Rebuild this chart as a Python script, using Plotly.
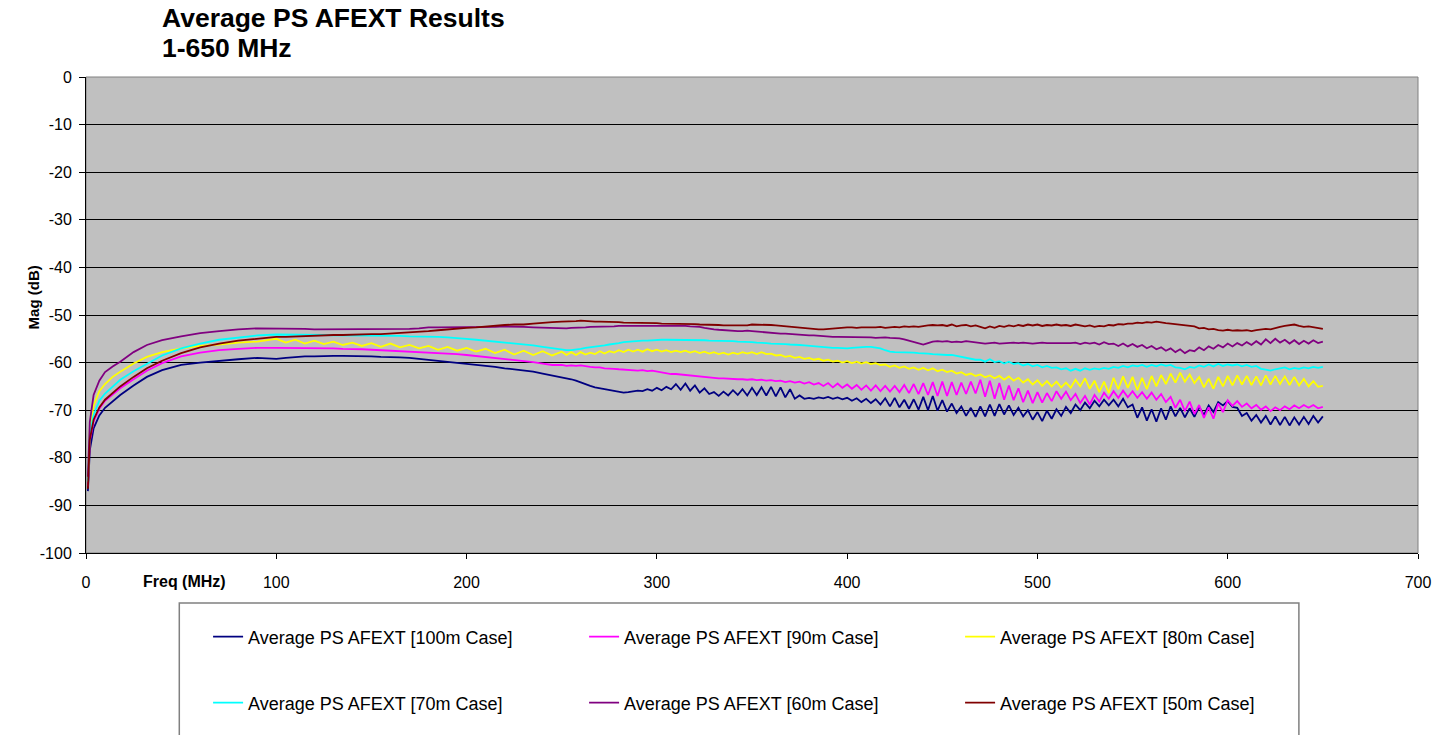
import numpy as np
import plotly.graph_objects as go

# Frequency sweep (MHz): coarse on the rising edge, then 5 MHz, then 2.5 MHz steps
freq = ([1, 2, 4, 7, 10, 14, 18, 25, 32, 40, 50, 60, 70, 80, 90]
        + list(range(100, 250, 5))
        + list(np.arange(250, 650.01, 2.5)))

series_names = [
    "Average PS AFEXT [100m Case]",
    "Average PS AFEXT [90m Case]",
    "Average PS AFEXT [80m Case]",
    "Average PS AFEXT [70m Case]",
    "Average PS AFEXT [60m Case]",
    "Average PS AFEXT [50m Case]",
]
series_colors = ["#000080", "#FF00FF", "#FFFF00", "#00FFFF", "#800080", "#800000"]

# Magnitude (dB) for each cable length
avg_100m = [
    -87.0, -78.4, -73.8, -71.1, -69.5, -68.1, -66.8, -64.8, -63.0, -61.6, -60.5, -60.0, -59.6, -59.3, -59.0,
    -59.2, -59.0, -58.8, -58.7, -58.7, -58.6, -58.6, -58.6, -58.6, -58.7, -58.7, -58.8, -58.8, -58.9, -59.0,
    -59.2, -59.4, -59.6, -59.8, -60.0, -60.2, -60.4, -60.6, -60.9, -61.2, -61.4, -61.6, -61.9, -62.3, -62.7,
    -63.0, -63.2, -63.5, -63.8, -64.2, -64.6, -64.9, -65.2,
    -65.4, -65.6, -65.8, -66.0, -66.2, -66.3, -66.2, -66.1,
    -65.9, -66.0, -65.6, -65.9, -65.3, -65.8, -65.1, -65.6,
    -64.5, -65.7, -64.4, -65.9, -64.8, -66.3, -65.4, -66.6,
    -66.2, -67.0, -66.1, -66.9, -65.8, -66.8, -65.6, -66.9,
    -65.3, -66.8, -65.2, -66.9, -65.1, -67.1, -65.2, -67.3,
    -65.6, -67.6, -66.9, -67.6, -67.4, -67.6, -67.3, -67.5,
    -67.2, -67.6, -67.3, -67.7, -67.4, -68.0, -67.5, -68.3,
    -67.6, -68.5, -67.7, -68.8, -67.5, -69.2, -67.4, -69.4,
    -67.8, -69.7, -67.7, -69.9, -67.2, -70.0, -67.0, -70.1,
    -67.9, -70.3, -68.6, -70.6, -69.2, -71.2, -69.5, -71.4,
    -69.2, -71.3, -68.8, -71.2, -68.7, -70.9, -69.0, -71.0,
    -69.5, -71.3, -70.0, -72.0, -70.4, -72.3, -70.1, -71.8,
    -69.8, -71.2, -69.3, -70.6, -68.8, -70.0, -68.4, -69.6,
    -68.0, -69.2, -67.8, -69.0, -67.8, -69.2, -67.6, -69.4,
    -68.8, -71.6, -69.4, -72.2, -69.8, -72.4, -69.6, -72.0,
    -69.2, -71.3, -69.5, -71.5, -69.6, -71.4, -69.3, -71.0,
    -69.0, -70.4, -68.3, -69.0, -68.1, -69.3, -69.5, -71.2,
    -70.6, -72.2, -71.0, -72.6, -71.2, -73.0, -71.3, -73.1,
    -71.4, -73.2, -71.5, -73.0, -71.4, -72.9, -71.2, -72.6,
    -71.3,
]

avg_90m = [
    -86.0, -76.5, -72.4, -69.7, -68.0, -66.6, -65.4, -63.5, -61.7, -60.1, -58.7, -57.9, -57.4, -57.1, -56.9,
    -56.9, -56.9, -56.9, -57.0, -57.0, -57.0, -57.0, -57.1, -57.1, -57.2, -57.3, -57.4, -57.4, -57.5, -57.6,
    -57.7, -57.8, -57.9, -58.0, -58.2, -58.4, -58.6, -58.8, -59.1, -59.3, -59.5, -59.6, -59.9, -60.2, -60.5,
    -60.5, -60.7, -60.6, -60.7, -60.6, -60.8, -60.9, -61.0,
    -61.0, -61.2, -61.2, -61.3, -61.4, -61.5, -61.6, -61.7,
    -61.7, -61.6, -61.8, -61.7, -61.9, -62.1, -62.2, -62.4,
    -62.4, -62.5, -62.7, -62.8, -62.9, -63.0, -63.1, -63.2,
    -63.2, -63.3, -63.3, -63.4, -63.4, -63.5, -63.5, -63.6,
    -63.5, -63.7, -63.6, -63.8, -63.7, -63.9, -63.8, -64.1,
    -63.9, -64.2, -64.0, -64.4, -64.1, -64.6, -64.3, -64.9,
    -64.3, -65.2, -64.4, -65.3, -64.6, -65.5, -64.7, -65.7,
    -64.8, -65.9, -64.8, -66.0, -64.9, -66.1, -64.9, -66.2,
    -64.7, -66.4, -64.5, -66.6, -64.3, -66.8, -64.1, -67.0,
    -64.0, -67.0, -64.1, -66.8, -64.2, -66.6, -64.0, -66.5,
    -63.6, -67.2, -63.8, -67.6, -64.3, -67.8, -64.8, -67.9,
    -65.4, -68.3, -65.9, -68.5, -66.2, -68.4, -66.4, -68.1,
    -66.0, -67.6, -66.1, -67.9, -66.6, -68.5, -67.0, -68.8,
    -66.8, -68.2, -66.3, -67.6, -66.0, -67.4, -65.9, -67.3,
    -66.0, -67.4, -66.2, -67.6, -66.3, -67.8, -66.6, -68.3,
    -67.2, -69.5, -67.8, -70.2, -68.2, -70.8, -68.9, -71.6,
    -69.4, -71.8, -68.6, -70.4, -67.9, -69.1, -68.1, -69.3,
    -68.6, -69.6, -68.9, -69.9, -69.2, -70.2, -69.4, -70.0,
    -69.2, -69.8, -69.0, -69.6, -68.9, -69.5, -68.9, -69.6,
    -69.3,
]

avg_80m = [
    -85.0, -74.0, -69.0, -66.0, -64.5, -63.0, -61.9, -60.2, -58.8, -57.8, -57.0, -56.5, -56.2, -55.8, -55.6,
    -55.0, -55.8, -55.2, -56.0, -55.4, -56.1, -55.6, -56.3, -55.8, -56.5, -55.9, -56.7, -56.0, -56.8, -56.3,
    -57.0, -56.5, -57.3, -56.7, -57.5, -56.9, -57.7, -57.1, -58.0, -57.3, -58.3, -57.5, -58.4, -57.6, -58.5,
    -57.7, -58.4, -57.8, -58.4, -57.8, -58.3, -57.9, -58.2,
    -57.6, -58.1, -57.6, -57.9, -57.4, -57.8, -57.3, -57.7,
    -57.3, -57.7, -57.2, -57.6, -57.3, -57.7, -57.4, -57.8,
    -57.5, -57.8, -57.5, -57.9, -57.6, -58.0, -57.7, -58.1,
    -57.8, -58.2, -57.9, -58.3, -57.9, -58.2, -57.8, -58.1,
    -57.8, -58.2, -57.8, -58.2, -58.1, -58.5, -58.4, -58.8,
    -58.6, -59.0, -58.8, -59.2, -59.0, -59.4, -59.2, -59.6,
    -59.4, -59.8, -59.6, -60.0, -59.7, -60.1, -59.8, -60.2,
    -59.9, -60.3, -60.1, -60.5, -60.4, -60.9, -60.6, -61.1,
    -60.8, -61.3, -61.0, -61.5, -61.1, -61.6, -61.2, -61.8,
    -61.5, -62.0, -61.7, -62.3, -62.0, -62.6, -62.3, -62.8,
    -62.5, -63.1, -62.7, -63.3, -62.8, -63.6, -62.9, -63.8,
    -63.2, -64.2, -63.5, -64.6, -63.7, -64.9, -63.9, -65.0,
    -64.0, -65.2, -64.2, -65.3, -63.6, -65.0, -63.3, -65.5,
    -63.8, -66.2, -64.0, -66.4, -63.2, -65.6, -62.9, -65.3,
    -63.0, -65.8, -63.2, -65.6, -62.8, -65.0, -62.6, -64.5,
    -62.3, -64.2, -62.1, -64.0, -62.5, -64.3, -63.0, -65.2,
    -63.4, -65.5, -63.0, -65.0, -62.8, -64.8, -62.7, -64.6,
    -62.8, -64.7, -62.9, -64.8, -62.7, -64.6, -62.8, -64.5,
    -62.9, -64.7, -63.0, -64.8, -63.4, -65.0, -63.9, -65.1,
    -64.9,
]

avg_70m = [
    -85.0, -75.0, -71.0, -68.0, -66.5, -65.0, -63.6, -61.8, -60.2, -58.5, -57.0, -56.0, -55.2, -54.7, -54.3,
    -54.1, -54.1, -54.1, -54.2, -54.2, -54.2, -54.3, -54.3, -54.3, -54.3, -54.4, -54.4, -54.4, -54.4, -54.5,
    -54.5, -54.6, -54.6, -54.7, -54.8, -55.0, -55.2, -55.4, -55.6, -55.7, -55.9, -56.1, -56.4, -56.7, -57.0,
    -57.3, -57.4, -57.4, -57.3, -57.1, -56.9, -56.8, -56.7,
    -56.6, -56.4, -56.2, -56.1, -55.9, -55.7, -55.6, -55.5,
    -55.5, -55.4, -55.4, -55.3, -55.3, -55.2, -55.2, -55.2,
    -55.2, -55.2, -55.2, -55.3, -55.3, -55.3, -55.3, -55.4,
    -55.4, -55.4, -55.4, -55.5, -55.5, -55.6, -55.6, -55.6,
    -55.7, -55.8, -55.8, -55.9, -56.0, -56.0, -56.1, -56.1,
    -56.2, -56.2, -56.3, -56.4, -56.5, -56.6, -56.7, -56.8,
    -56.8, -56.9, -56.9, -57.0, -57.0, -56.9, -56.8, -56.8,
    -56.7, -56.7, -56.8, -57.0, -57.4, -57.7, -57.8, -57.8,
    -57.9, -57.9, -57.9, -58.0, -58.0, -58.1, -58.2, -58.3,
    -58.3, -58.4, -58.4, -58.6, -58.9, -59.1, -59.3, -59.4,
    -59.4, -59.8, -59.3, -59.9, -59.7, -60.2, -59.8, -60.3,
    -60.1, -60.6, -60.3, -60.8, -60.5, -61.0, -60.7, -61.1,
    -61.0, -61.4, -61.2, -61.7, -61.3, -61.7, -61.2, -61.5,
    -61.2, -61.4, -61.1, -61.3, -60.9, -61.1, -60.7, -61.0,
    -60.6, -60.8, -60.5, -60.9, -60.5, -60.8, -60.4, -60.7,
    -60.5, -61.0, -61.1, -61.4, -60.9, -61.1, -60.6, -60.9,
    -60.4, -60.8, -60.3, -60.7, -60.4, -60.6, -60.4, -60.8,
    -60.5, -60.9, -60.7, -61.3, -61.5, -61.7, -61.4, -61.2,
    -61.0, -61.4, -61.1, -61.3, -61.0, -61.2, -60.9, -61.1,
    -60.9,
]

avg_60m = [
    -84.0, -72.5, -66.8, -63.8, -62.0, -60.8, -59.8, -57.8, -56.3, -55.3, -54.5, -53.8, -53.4, -53.0, -52.8,
    -52.8, -52.8, -52.9, -52.9, -53.0, -53.0, -53.0, -53.0, -53.0, -53.0, -53.0, -53.0, -52.9, -52.9, -52.9,
    -52.8, -52.6, -52.6, -52.6, -52.6, -52.6, -52.5, -52.5, -52.5, -52.4, -52.4, -52.5, -52.6, -52.7, -52.8,
    -52.8, -52.8, -52.7, -52.7, -52.6, -52.6, -52.5, -52.5,
    -52.5, -52.4, -52.4, -52.4, -52.3, -52.3, -52.3, -52.3,
    -52.3, -52.3, -52.3, -52.2, -52.3, -52.3, -52.3, -52.3,
    -52.3, -52.3, -52.3, -52.4, -52.4, -52.5, -52.7, -52.9,
    -53.0, -53.1, -53.2, -53.2, -53.3, -53.4, -53.4, -53.3,
    -53.4, -53.5, -53.5, -53.6, -53.7, -53.8, -53.9, -53.9,
    -54.0, -54.1, -54.1, -54.2, -54.3, -54.3, -54.4, -54.5,
    -54.5, -54.6, -54.6, -54.6, -54.6, -54.7, -54.7, -54.7,
    -54.7, -54.7, -54.8, -54.7, -54.7, -54.8, -54.8, -54.9,
    -55.1, -55.4, -55.6, -55.9, -56.2, -55.9, -55.6, -55.5,
    -55.6, -55.5, -55.7, -55.6, -55.7, -55.5, -55.6, -55.8,
    -55.9, -56.0, -55.9, -55.8, -56.0, -55.9, -55.9, -55.8,
    -55.9, -55.8, -55.9, -56.0, -55.9, -55.8, -55.9, -55.9,
    -55.9, -55.9, -56.0, -55.9, -55.8, -56.1, -55.8, -56.0,
    -55.8, -56.2, -55.7, -56.1, -56.0, -56.5, -56.0, -56.6,
    -56.1, -56.7, -56.3, -57.0, -56.5, -57.2, -56.8, -57.5,
    -57.0, -57.8, -57.2, -58.0, -57.4, -57.6, -56.8, -57.4,
    -56.6, -57.1, -56.3, -56.8, -56.0, -56.6, -55.9, -56.4,
    -55.7, -56.3, -55.5, -56.2, -55.1, -55.9, -55.0, -55.8,
    -55.2, -56.0, -55.3, -56.1, -55.4, -56.0, -55.3, -55.9,
    -55.6,
]

avg_50m = [
    -86.5, -76.2, -72.0, -69.4, -67.8, -66.3, -65.0, -63.0, -61.2, -59.6, -58.0, -56.8, -56.0, -55.4, -55.0,
    -54.6, -54.6, -54.5, -54.4, -54.3, -54.3, -54.2, -54.2, -54.1, -54.1, -54.0, -54.0, -53.9, -53.8, -53.6,
    -53.5, -53.4, -53.2, -53.0, -52.9, -52.7, -52.6, -52.4, -52.3, -52.1, -52.0, -52.0, -51.8, -51.6, -51.5,
    -51.4, -51.4, -51.3, -51.3, -51.2, -51.3, -51.3, -51.4,
    -51.4, -51.4, -51.5, -51.5, -51.5, -51.6, -51.6, -51.6,
    -51.6, -51.7, -51.7, -51.7, -51.7, -51.8, -51.8, -51.8,
    -51.8, -51.9, -51.9, -51.9, -51.9, -52.0, -52.0, -52.1,
    -52.1, -52.1, -52.2, -52.2, -52.2, -52.3, -52.3, -52.2,
    -52.0, -52.0, -52.1, -52.1, -52.1, -52.2, -52.3, -52.4,
    -52.5, -52.6, -52.7, -52.7, -52.8, -52.9, -53.0, -53.0,
    -52.9, -52.8, -52.7, -52.7, -52.6, -52.6, -52.7, -52.6,
    -52.6, -52.7, -52.6, -52.5, -52.7, -52.6, -52.5, -52.6,
    -52.4, -52.5, -52.4, -52.5, -52.3, -52.2, -52.1, -52.2,
    -52.1, -52.3, -52.0, -52.4, -52.2, -52.1, -52.4, -52.2,
    -52.5, -52.8, -52.4, -52.7, -52.3, -52.5, -52.2, -52.4,
    -52.1, -52.3, -52.0, -52.2, -52.0, -52.3, -52.1, -52.2,
    -52.0, -52.2, -52.1, -52.3, -52.0, -52.2, -52.4, -52.2,
    -52.5, -52.3, -52.4, -52.1, -52.2, -51.9, -52.0, -51.8,
    -51.8, -51.6, -51.7, -51.5, -51.6, -51.4, -51.6, -51.7,
    -51.8, -51.9, -52.0, -52.1, -52.2, -52.4, -52.8, -52.7,
    -53.0, -52.9, -53.2, -53.3, -53.1, -53.3, -53.2, -53.3,
    -53.2, -53.4, -53.2, -53.1, -52.9, -53.0, -52.7, -52.5,
    -52.3, -52.1, -52.0, -52.3, -52.5, -52.4, -52.6, -52.8,
    -52.9,
]

series_values = [avg_100m, avg_90m, avg_80m, avg_70m, avg_60m, avg_50m]

y_ticks = [0, -10, -20, -30, -40, -50, -60, -70, -80, -90, -100]
y_tick_text = ["0", "-10", "-20", "-30", "-40", "-50", "-60", "-70", "-80", "-90", "-100"]
x_ticks = [0, 100, 200, 300, 400, 500, 600, 700]

title_lines = ["Average PS AFEXT Results", "1-650 MHz"]

FONT = "Liberation Sans, Arial, sans-serif"

fig = go.Figure()
for i, (name, color, vals) in enumerate(zip(series_names, series_colors, series_values)):
    fig.add_trace(go.Scatter(
        x=freq, y=vals, name=name, mode="lines",
        line=dict(color=color, width=1.8),
        legend="legend" if i < 3 else "legend2",
    ))

W, H = 1443, 735
L, R, T, B = 86, 15, 77, 182
pw, ph = W - L - R, H - T - B


def px_x(x):
    return (x - L) / pw


def px_y(y):
    return (H - B - y) / ph


legend_common = dict(
    orientation="h", entrywidth=331, entrywidthmode="pixels",
    font=dict(family=FONT, size=18, color="black"),
    bgcolor="rgba(0,0,0,0)", borderwidth=0,
    xanchor="left", yanchor="middle", itemwidth=30,
)

fig.update_layout(
    width=W, height=H,
    margin=dict(l=L, r=R, t=T, b=B, pad=0),
    paper_bgcolor="white",
    plot_bgcolor="#C0C0C0",
    font=dict(family=FONT, size=16, color="black"),
    xaxis=dict(
        range=[0, 700], tickvals=x_ticks, ticks="outside", ticklen=5,
        tickcolor="black", showline=True, linecolor="black", linewidth=1,
        showgrid=False, zeroline=False, ticklabelstandoff=10,
        tickfont=dict(family=FONT, size=16),
    ),
    yaxis=dict(
        range=[-100, 0], tickvals=y_ticks, ticktext=y_tick_text,
        ticks="outside", ticklen=6, tickcolor="black",
        showline=True, linecolor="black", linewidth=1,
        showgrid=True, gridcolor="black", gridwidth=1, zeroline=False,
        ticklabelstandoff=4, tickfont=dict(family=FONT, size=16),
    ),
    legend=dict(x=px_x(209), y=px_y(637), **legend_common),
    legend2=dict(x=px_x(209), y=px_y(703), **legend_common),
    showlegend=True,
)

# Chart title, two bold lines at the top left
for line_text, cy in zip(title_lines, [18, 48]):
    fig.add_annotation(text="<b>%s</b>" % line_text, xref="paper", yref="paper",
                       x=px_x(161), y=px_y(cy), xanchor="left", yanchor="middle",
                       showarrow=False, font=dict(family=FONT, size=26.5, color="black"))

# Plot-area frame and legend box
fig.add_shape(type="rect", xref="paper", yref="paper", x0=0, x1=1, y0=0, y1=1,
              line=dict(color="#808080", width=1), layer="below")
fig.add_shape(type="rect", xref="paper", yref="paper",
              x0=px_x(180), x1=px_x(1308), y0=px_y(603), y1=px_y(760),
              line=dict(color="#808080", width=1.5), fillcolor="rgba(0,0,0,0)")

# Axis captions
fig.add_annotation(text="<b>Freq (MHz)</b>", xref="paper", yref="paper",
                   x=px_x(185), y=px_y(581), xanchor="center", yanchor="middle",
                   showarrow=False, font=dict(family=FONT, size=16, color="black"))
fig.add_annotation(text="<b>Mag (dB)</b>", xref="paper", yref="paper",
                   x=px_x(33), y=px_y(297), xanchor="center", yanchor="middle",
                   textangle=-90, showarrow=False,
                   font=dict(family=FONT, size=15, color="black"))

fig.write_html("out.html")
